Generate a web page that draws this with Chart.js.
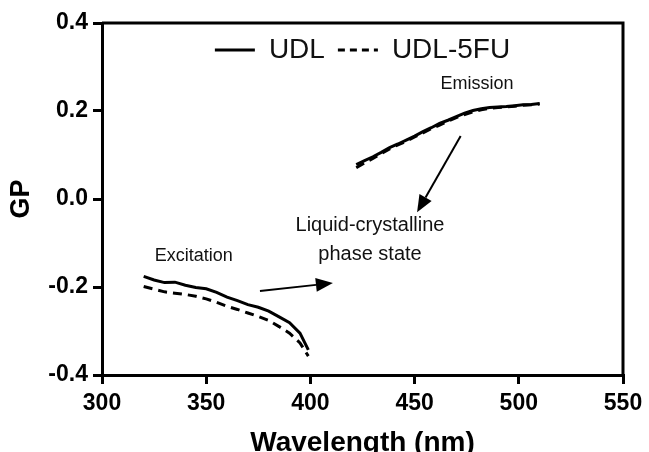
<!DOCTYPE html>
<html>
<head>
<meta charset="utf-8">
<script src="https://cdn.jsdelivr.net/npm/chart.js@4"></script>
<style>
  html, body { margin: 0; padding: 0; background: #fff; }
  #wrap { width: 649px; height: 452px; }
</style>
</head>
<body>
<div id="wrap"><canvas id="c"></canvas></div>
<script>
// excitation part (nm) and GP values
const exWavelength = [320, 325, 330, 335, 340, 345, 350, 355, 360, 365, 370, 375, 380, 385, 390, 395, 399];
const udlEx = [-0.176, -0.184, -0.190, -0.189, -0.196, -0.201, -0.204, -0.212, -0.223, -0.231, -0.240, -0.246, -0.255, -0.268, -0.281, -0.305, -0.343];
const udl5fuEx = [-0.199, -0.205, -0.211, -0.214, -0.217, -0.221, -0.227, -0.235, -0.244, -0.251, -0.259, -0.267, -0.276, -0.290, -0.305, -0.327, -0.357];

// emission part
const emWavelength = [422, 426, 430, 434, 438, 442, 446, 450, 454, 458, 462, 466, 470, 474, 478, 482, 486, 490, 494, 498, 502, 506, 510];
const udlEm = [0.078, 0.087, 0.096, 0.106, 0.117, 0.125, 0.134, 0.143, 0.153, 0.162, 0.172, 0.179, 0.187, 0.195, 0.201, 0.205, 0.208, 0.209, 0.210, 0.212, 0.214, 0.215, 0.217];
const udl5fuEm = [0.071, 0.082, 0.092, 0.103, 0.114, 0.123, 0.131, 0.141, 0.150, 0.160, 0.168, 0.177, 0.185, 0.192, 0.198, 0.203, 0.206, 0.208, 0.209, 0.211, 0.213, 0.214, 0.216];

const seriesNames = ['UDL', 'UDL-5FU'];
const yTicks = [-0.4, -0.2, 0.0, 0.2, 0.4];
const xTicks = [300, 350, 400, 450, 500, 550];

// text notes and arrows, in data units
const noteTexts = ['Excitation', 'Emission', 'Liquid-crystalline', 'phase state'];
const noteX = [344, 480, 428.6, 428.6];
const noteY = [-0.13, 0.261, -0.061, -0.125];
const noteSize = [18, 18, 20, 20];
const arrowFrom = [[375.8, -0.209], [472.1, 0.143]];
const arrowTo = [[410.8, -0.191], [451.2, -0.03]];

// join the two parts with a gap
const toPoints = (ex, em) => {
  const pts = exWavelength.map((x, i) => ({ x: x, y: ex[i] }));
  pts.push({ x: 410, y: null });
  emWavelength.forEach((x, i) => pts.push({ x: x, y: em[i] }));
  return pts;
};

const FONT = 'Liberation Sans, Arial, sans-serif';

// legend takes no layout space (it sits inside the plot box),
// but gets its real height back before drawing so it isn't clipped
const legendInside = {
  id: 'legendInside',
  beforeInit(chart) {
    const lg = chart.legend;
    const fit = lg.fit;
    lg.fit = function () {
      fit.call(this);
      this._realHeight = this.height;
      this.height = 0;
    };
  },
  afterLayout(chart) {
    const lg = chart.legend;
    lg.height = lg._realHeight;
    lg.bottom = lg.top + lg._realHeight;
  }
};

const frameAndNotes = {
  id: 'frameAndNotes',
  afterDraw(chart) {
    const { ctx, chartArea: a, scales } = chart;
    const sx = scales.x, sy = scales.y;
    ctx.save();
    ctx.strokeStyle = '#000';
    ctx.lineWidth = 3;
    ctx.beginPath();
    ctx.moveTo(a.left, a.top);
    ctx.lineTo(a.right, a.top);
    ctx.lineTo(a.right, a.bottom);
    ctx.stroke();

    ctx.fillStyle = '#111';
    ctx.textAlign = 'center';
    ctx.textBaseline = 'middle';
    noteTexts.forEach((t, i) => {
      ctx.font = noteSize[i] + 'px ' + FONT;
      ctx.fillText(t, sx.getPixelForValue(noteX[i]), sy.getPixelForValue(noteY[i]));
    });

    ctx.lineWidth = 2;
    ctx.fillStyle = '#000';
    arrowFrom.forEach((f, i) => {
      const x0 = sx.getPixelForValue(f[0]), y0 = sy.getPixelForValue(f[1]);
      const x1 = sx.getPixelForValue(arrowTo[i][0]), y1 = sy.getPixelForValue(arrowTo[i][1]);
      const ang = Math.atan2(y1 - y0, x1 - x0);
      const hl = 17, hw = 7;
      const bx = x1 - hl * Math.cos(ang), by = y1 - hl * Math.sin(ang);
      ctx.beginPath();
      ctx.moveTo(x0, y0);
      ctx.lineTo(bx, by);
      ctx.stroke();
      ctx.beginPath();
      ctx.moveTo(x1, y1);
      ctx.lineTo(bx + hw * Math.sin(ang), by - hw * Math.cos(ang));
      ctx.lineTo(bx - hw * Math.sin(ang), by + hw * Math.cos(ang));
      ctx.closePath();
      ctx.fill();
    });
    ctx.restore();
  }
};

new Chart(document.getElementById('c'), {
  type: 'line',
  data: {
    datasets: [
      {
        label: seriesNames[0],
        data: toPoints(udlEx, udlEm),
        borderColor: '#000',
        backgroundColor: '#000',
        borderWidth: 3,
        pointRadius: 0,
        tension: 0,
        spanGaps: false
      },
      {
        label: seriesNames[1],
        data: toPoints(udl5fuEx, udl5fuEm),
        borderColor: '#000',
        backgroundColor: '#000',
        borderWidth: 3,
        borderDash: [9, 6],
        pointRadius: 0,
        tension: 0,
        spanGaps: false
      }
    ]
  },
  options: {
    responsive: true,
    maintainAspectRatio: false,
    animation: false,
    layout: { padding: { top: 23, right: 26, left: 0, bottom: 0 } },
    plugins: {
      tooltip: { enabled: false },
      legend: {
        position: 'top',
        fullSize: false,
        labels: {
          usePointStyle: true,
          pointStyle: 'line',
          pointStyleWidth: 40,
          padding: 13,
          color: '#111',
          font: { family: FONT, size: 28 },
          // point style drops the line dash, put it back from the dataset
          generateLabels(chart) {
            const items = Chart.defaults.plugins.legend.labels.generateLabels(chart);
            items.forEach(item => {
              const ds = chart.data.datasets[item.datasetIndex];
              item.lineDash = ds.borderDash ? [7, 5] : [];
              item.lineWidth = 3;
              item.strokeStyle = '#000';
            });
            return items;
          }
        }
      }
    },
    scales: {
      x: {
        type: 'linear',
        min: 300,
        max: 550,
        afterFit(scale) { scale.height = 77; },
        afterBuildTicks(scale) { scale.ticks = xTicks.map(v => ({ value: v })); },
        grid: { display: true, drawOnChartArea: false, drawTicks: true, tickLength: 9, lineWidth: 3, color: '#000' },
        border: { display: true, width: 3, color: '#000' },
        ticks: {
          color: '#000',
          padding: 6,
          maxRotation: 0,
          font: { family: FONT, size: 23, weight: 'bold' }
        },
        title: {
          display: true,
          text: 'Wavelength (nm)',
          color: '#000',
          padding: { top: 0, bottom: -5 },
          font: { family: FONT, size: 28, weight: 'bold', lineHeight: 1 }
        }
      },
      y: {
        min: -0.4,
        max: 0.4,
        afterFit(scale) { scale.width = 102; },
        afterBuildTicks(scale) { scale.ticks = yTicks.map(v => ({ value: v })); },
        grid: { display: true, drawOnChartArea: false, drawTicks: true, tickLength: 9, lineWidth: 3, color: '#000' },
        border: { display: true, width: 3, color: '#000' },
        ticks: {
          color: '#000',
          padding: 5,
          font: { family: FONT, size: 23, weight: 'bold' },
          callback: v => v.toFixed(1)
        },
        title: {
          display: true,
          text: 'GP',
          color: '#000',
          padding: { top: 8, bottom: 0 },
          font: { family: FONT, size: 27, weight: 'bold', lineHeight: 1 }
        }
      }
    }
  },
  plugins: [legendInside, frameAndNotes]
});
</script>
</body>
</html>
